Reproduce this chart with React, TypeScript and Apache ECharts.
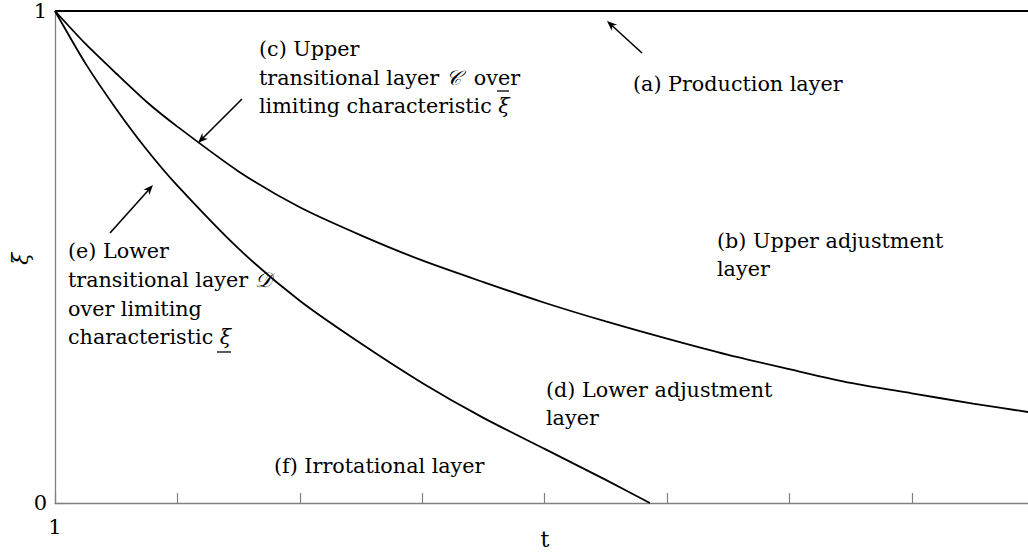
import React, { useEffect, useRef } from "react";
import * as echarts from "echarts";

// t axis
const tTicks = [1, 2, 3, 4, 5, 6, 7, 8, 9];
const tMin = 1;
const tMax = 9;
const xiTicks = [0, 1];

// (a) production layer: xi = 1
const productionT = [1, 9];
const productionXi = [1, 1];

// (c) upper limiting characteristic
const upperT = [1, 1.25, 1.5, 1.75, 2, 2.5, 3, 3.5, 4, 4.5, 5, 5.5, 6, 6.5, 7, 7.5, 8, 8.5, 9];
const upperXi = [1.0, 0.933, 0.873, 0.815, 0.765, 0.674, 0.601, 0.544, 0.493, 0.449, 0.407, 0.369, 0.334, 0.301, 0.272, 0.244, 0.223, 0.202, 0.183];

// (e) lower limiting characteristic
const lowerT = [1, 1.25, 1.5, 1.75, 2, 2.5, 3, 3.5, 4, 4.5, 5, 5.5, 5.86];
const lowerXi = [1.0, 0.893, 0.801, 0.718, 0.645, 0.517, 0.411, 0.324, 0.244, 0.173, 0.11, 0.047, 0];

const FONT_FAMILY = '"DejaVu Serif", "DejaVu Sans", serif';
const FS = 20.7;

function zip(a: number[], b: number[]) {
  return a.map((v, i) => [v, b[i]]);
}

function txt(text: string, x: number, y: number, rich?: any) {
  return {
    type: "text",
    x,
    y,
    silent: true,
    style: {
      text,
      fill: "#000",
      font: `${FS}px ${FONT_FAMILY}`,
      fontSize: FS,
      fontFamily: FONT_FAMILY,
      align: "left",
      verticalAlign: "middle",
      rich,
    },
  };
}

function seg(x1: number, y1: number, x2: number, y2: number, w = 1.3) {
  return {
    type: "line",
    silent: true,
    shape: { x1, y1, x2, y2 },
    style: { stroke: "#000", lineWidth: w },
  };
}

function arrow(x1: number, y1: number, x2: number, y2: number) {
  const ang = Math.atan2(y2 - y1, x2 - x1);
  const L = 10;
  const W = 4;
  const bx = x2 - L * Math.cos(ang);
  const by = y2 - L * Math.sin(ang);
  const nx = -Math.sin(ang);
  const ny = Math.cos(ang);
  const ix = x2 - L * 0.7 * Math.cos(ang);
  const iy = y2 - L * 0.7 * Math.sin(ang);
  return [
    seg(x1, y1, ix, iy, 1.6),
    {
      type: "polygon",
      silent: true,
      shape: {
        points: [
          [x2, y2],
          [bx + nx * W, by + ny * W],
          [ix, iy],
          [bx - nx * W, by - ny * W],
        ],
      },
      style: { fill: "#000" },
    },
  ];
}

const italic = {
  i: { fontStyle: "italic", fontSize: FS, fontFamily: FONT_FAMILY, fill: "#000" },
};

// chart canvas is a bit wider than the 1028px viewport so the t-axis runs past the right edge
const CANVAS_W = 1040;

export default function App() {
  const ref = useRef<HTMLDivElement>(null);

  useEffect(() => {
    if (!ref.current) return;
    const chart = echarts.init(ref.current, undefined, { renderer: "svg" });
    const axisColor = "#808080";
    chart.setOption({
      animation: false,
      backgroundColor: "#fff",
      grid: { left: 55, top: 11, right: CANVAS_W - 1034.2, bottom: 49, containLabel: false },
      xAxis: {
        type: "value",
        min: tMin,
        max: tMax,
        interval: 1,
        axisLine: { show: true, lineStyle: { color: axisColor, width: 1.3 } },
        axisTick: { show: true, inside: true, length: 10, lineStyle: { color: axisColor, width: 1.2 } },
        splitLine: { show: false },
        axisLabel: {
          color: "#000",
          fontFamily: FONT_FAMILY,
          fontSize: 21,
          margin: 13,
          formatter: (v: number) => (v === tTicks[0] ? String(v) : ""),
        },
      },
      yAxis: {
        type: "value",
        min: xiTicks[0],
        max: xiTicks[1],
        interval: 1,
        axisLine: { show: true, lineStyle: { color: axisColor, width: 1.3 } },
        axisTick: { show: true, inside: true, length: 10, lineStyle: { color: axisColor, width: 1.2 } },
        splitLine: { show: false },
        axisLabel: {
          color: "#000",
          fontFamily: FONT_FAMILY,
          fontSize: 21,
          margin: 8,
          formatter: (v: number) => String(v),
        },
      },
      series: [
        {
          type: "line",
          name: "production",
          data: zip(productionT, productionXi),
          showSymbol: false,
          clip: false,
          lineStyle: { color: "#000", width: 2 },
          z: 5,
        },
        {
          type: "line",
          name: "upper",
          data: zip(upperT, upperXi),
          showSymbol: false,
          smooth: 0.25,
          clip: false,
          lineStyle: { color: "#000", width: 1.8 },
        },
        {
          type: "line",
          name: "lower",
          data: zip(lowerT, lowerXi),
          showSymbol: false,
          smooth: 0.25,
          clip: false,
          lineStyle: { color: "#000", width: 1.8 },
        },
      ],
      graphic: [
        txt("(a) Production layer", 633, 84),
        txt("(b) Upper adjustment", 717, 241),
        txt("layer", 717, 269),
        txt("(c) Upper", 259, 49),
        txt("transitional layer {i|\u{1D49E}}  over", 259, 78, italic),
        txt("limiting characteristic {i|\u03BE}", 259, 106, italic),
        seg(497, 91, 509, 91, 1.3),
        txt("(d) Lower adjustment", 546, 390),
        txt("layer", 546, 418),
        txt("(e) Lower", 68, 251),
        txt("transitional layer {i|\u{1D49F}}", 68, 280, italic),
        txt("over limiting", 68, 309),
        txt("characteristic {i|\u03BE}", 68, 337, italic),
        seg(217, 352, 231, 352, 1.3),
        txt("(f) Irrotational layer", 274, 466),
        {
          type: "text",
          x: 545,
          y: 539,
          silent: true,
          style: {
            text: "t",
            fill: "#000",
            font: `22px ${FONT_FAMILY}`,
            align: "center",
            verticalAlign: "middle",
          },
        },
        {
          type: "text",
          x: 20,
          y: 259,
          rotation: Math.PI / 2,
          silent: true,
          style: {
            text: "\u03BE",
            fill: "#000",
            font: `italic 22px ${FONT_FAMILY}`,
            align: "center",
            verticalAlign: "middle",
          },
        },
        ...arrow(642, 53, 607, 21),
        ...arrow(242, 99, 198, 143),
        ...arrow(110, 233, 153, 185),
      ],
    });
    return () => chart.dispose();
  }, []);

  return (
    <div style={{ position: "fixed", left: 0, top: 0, width: 1028, height: 552, overflow: "hidden", background: "#fff" }}>
      <div ref={ref} style={{ width: CANVAS_W, height: 552 }} />
    </div>
  );
}
